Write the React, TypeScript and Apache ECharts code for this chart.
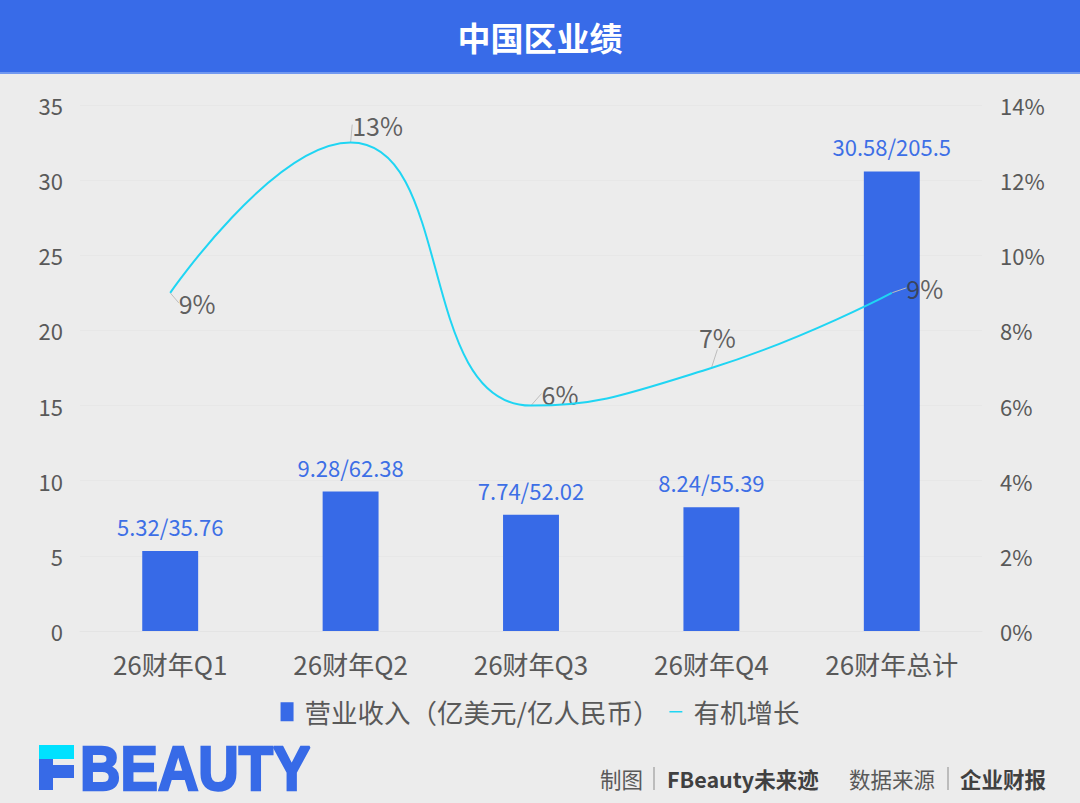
import React, { useEffect, useRef } from "react";
import * as echarts from "echarts";

const categories = ["26财年Q1", "26财年Q2", "26财年Q3", "26财年Q4", "26财年总计"];
const revenueUSD = [5.32, 9.28, 7.74, 8.24, 30.58];
const revenueRMB = ["35.76", "62.38", "52.02", "55.39", "205.5"];
const organicGrowth = [0.09, 0.13, 0.06, 0.07, 0.09];
const growthLabels = ["9%", "13%", "6%", "7%", "9%"];
const leftTicks = { min: 0, max: 35, interval: 5 };
const rightTicks = { min: 0, max: 0.14, interval: 0.02 };

const labelOffsets = [
  [27, 10],
  [27, -18],
  [29, -12],
  [6, -31],
  [33, -5],
];

const FONT = "'Noto Sans CJK SC', 'Noto Sans', sans-serif";
const BLUE = "#376ae7";
const CYAN = "#1fd5f3";

export default function App() {
  const ref = useRef<HTMLDivElement>(null);
  useEffect(() => {
    document.body.style.margin = "0";
    const chart = echarts.init(ref.current!, null, { renderer: "svg" });
    chart.setOption({
      animation: false,
      backgroundColor: "#ececec",
      textStyle: { fontFamily: FONT },
      grid: { left: 80, right: 98, top: 105, bottom: 172 },
      legend: {
        bottom: 73,
        left: "center",
        itemGap: 10,
        itemWidth: 13,
        itemHeight: 19,
        textStyle: { color: "#595959", fontSize: 26.5, fontFamily: FONT, padding: [0, 0, 0, 6] },
        data: [
          { name: "营业收入（亿美元/亿人民币）", icon: "rect" },
          {
            name: "有机增长",
            icon: "path://M0,0L0.1,0M0,8.5H15V10.5H0ZM15,19L15.1,19",
            itemStyle: { color: CYAN },
          },
        ],
      },
      xAxis: {
        type: "category",
        data: categories,
        axisLine: { show: true, lineStyle: { color: "#e4e4e4" } },
        axisTick: { show: false },
        axisLabel: { color: "#595959", fontSize: 26, margin: 19, fontFamily: FONT },
      },
      yAxis: [
        {
          type: "value",
          ...leftTicks,
          axisLine: { show: false },
          axisTick: { show: false },
          splitLine: { lineStyle: { color: "#e7e7e7" } },
          axisLabel: { color: "#595959", fontSize: 22, margin: 17, fontFamily: FONT },
        },
        {
          type: "value",
          ...rightTicks,
          axisLine: { show: false },
          axisTick: { show: false },
          splitLine: { show: false },
          axisLabel: {
            color: "#595959",
            fontSize: 22,
            margin: 18,
            fontFamily: FONT,
            formatter: (v: number) => Math.round(v * 100) + "%",
          },
        },
      ],
      series: [
        {
          name: "营业收入（亿美元/亿人民币）",
          type: "bar",
          data: revenueUSD,
          barWidth: "31%",
          itemStyle: { color: BLUE },
          label: {
            show: true,
            position: "top",
            distance: 14,
            color: "#3d6fe6",
            fontSize: 22,
            fontFamily: FONT,
            formatter: (p: any) => revenueUSD[p.dataIndex] + "/" + revenueRMB[p.dataIndex],
          },
        },
        {
          name: "有机增长",
          type: "line",
          yAxisIndex: 1,
          data: organicGrowth,
          smooth: true,
          symbol: "none",
          lineStyle: { color: CYAN, width: 2 },
          itemStyle: { color: CYAN },
        },
        {
          name: "labels",
          type: "scatter",
          yAxisIndex: 1,
          data: organicGrowth,
          symbolSize: 1,
          itemStyle: { color: "rgba(0,0,0,0)" },
          silent: true,
          label: {
            show: true,
            position: "inside",
            color: "#3a3a3a",
            fontSize: 25,
            fontFamily: FONT,
            formatter: (p: any) => growthLabels[p.dataIndex],
          },
          labelLine: { show: true, lineStyle: { color: "#bdbdbd", width: 1 } },
          labelLayout: (p: any) => ({
            dx: labelOffsets[p.dataIndex][0],
            dy: labelOffsets[p.dataIndex][1],
          }),
        },
      ],
      graphic: [
        { type: "rect", shape: { x: 0, y: 0, width: 1080, height: 72 }, style: { fill: "#386be8" } },
        { type: "rect", shape: { x: 0, y: 72, width: 1080, height: 2 }, style: { fill: "#7198f0" } },
        {
          type: "text",
          x: 540,
          y: 37,
          style: {
            text: "中国区业绩",
            fill: "#ffffff",
            fontSize: 33,
            fontWeight: "bold",
            fontFamily: FONT,
            align: "center",
            verticalAlign: "middle",
          },
        },
        // logo
        { type: "rect", shape: { x: 39, y: 745, width: 35, height: 14 }, style: { fill: "#00e1ff" } },
        { type: "rect", shape: { x: 39, y: 759, width: 14, height: 6 }, style: { fill: "#376ae7" } },
        { type: "rect", shape: { x: 39, y: 765, width: 35, height: 13 }, style: { fill: "#376ae7" } },
        { type: "rect", shape: { x: 39, y: 778, width: 14, height: 12 }, style: { fill: "#376ae7" } },
        {
          type: "text",
          x: 80,
          y: 768,
          scaleX: 0.89,
          style: {
            text: "BEAUTY",
            fill: "#376ae7",
            stroke: "#376ae7",
            lineWidth: 2.5,
            fontSize: 63,
            fontWeight: "bold",
            fontFamily: "'Liberation Sans', 'DejaVu Sans', sans-serif",
            align: "left",
            verticalAlign: "middle",
          },
        },
        // footer
        {
          type: "text",
          x: 600,
          y: 778,
          style: { text: "制图", fill: "#595959", fontSize: 21.5, fontFamily: FONT, verticalAlign: "middle" },
        },
        { type: "line", shape: { x1: 654, y1: 767, x2: 654, y2: 790 }, style: { stroke: "#8c8c8c", lineWidth: 1 } },
        {
          type: "text",
          x: 667,
          y: 778,
          style: {
            text: "FBeauty未来迹",
            fill: "#404040",
            fontSize: 21.5,
            fontWeight: "bold",
            fontFamily: FONT,
            verticalAlign: "middle",
          },
        },
        {
          type: "text",
          x: 849,
          y: 778,
          style: { text: "数据来源", fill: "#595959", fontSize: 21.5, fontFamily: FONT, verticalAlign: "middle" },
        },
        { type: "line", shape: { x1: 948, y1: 767, x2: 948, y2: 790 }, style: { stroke: "#8c8c8c", lineWidth: 1 } },
        {
          type: "text",
          x: 960,
          y: 778,
          style: {
            text: "企业财报",
            fill: "#404040",
            fontSize: 21.5,
            fontWeight: "bold",
            fontFamily: FONT,
            verticalAlign: "middle",
          },
        },
      ],
    });
    return () => chart.dispose();
  }, []);
  return <div ref={ref} style={{ position: "absolute", left: 0, top: 0, width: 1080, height: 803 }} />;
}
